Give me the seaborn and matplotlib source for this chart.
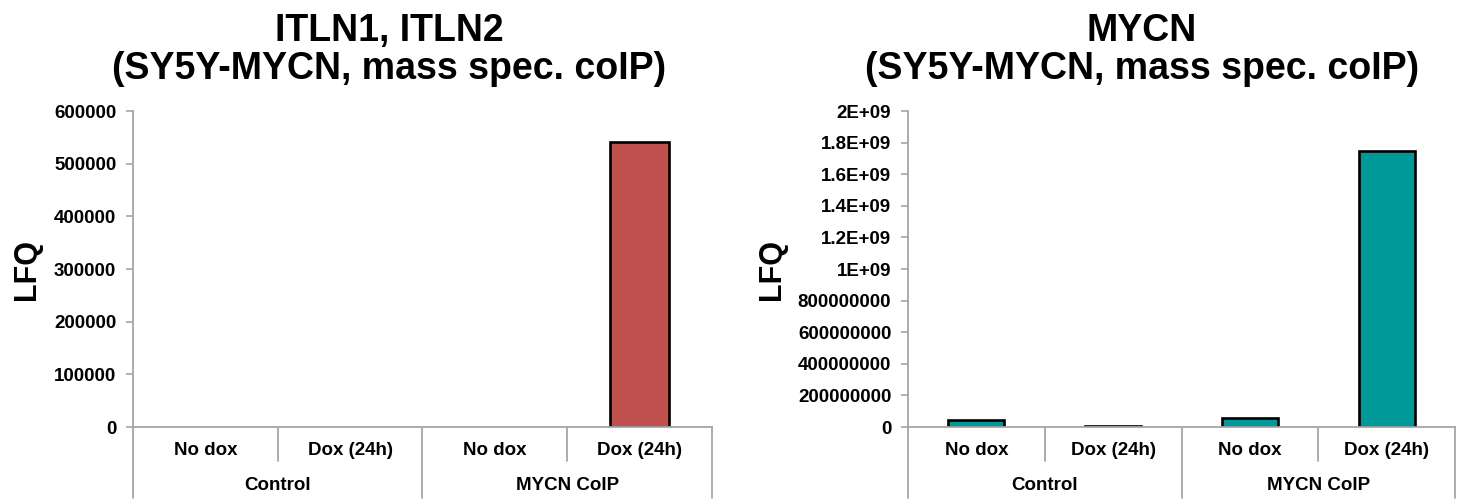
import matplotlib
matplotlib.use("Agg")
import matplotlib.pyplot as plt
import matplotlib.transforms as mtransforms
import seaborn as sns
import pandas as pd

# ---- data ----
groups = ["Control", "Control", "MYCN CoIP", "MYCN CoIP"]
treatments = ["No dox", "Dox (24h)", "No dox", "Dox (24h)"]
itln_values = [0, 0, 0, 541000]
mycn_values = [44000000, 5000000, 60000000, 1747000000]

itln_ticks = [0, 100000, 200000, 300000, 400000, 500000, 600000]
itln_ticklabels = ["0", "100000", "200000", "300000", "400000", "500000", "600000"]
mycn_ticks = [0, 2e8, 4e8, 6e8, 8e8, 1e9, 1.2e9, 1.4e9, 1.6e9, 1.8e9, 2e9]
mycn_ticklabels = ["0", "200000000", "400000000", "600000000", "800000000",
                   "1E+09", "1.2E+09", "1.4E+09", "1.6E+09", "1.8E+09", "2E+09"]

titles = ["ITLN1, ITLN2\n(SY5Y-MYCN, mass spec. coIP)",
          "MYCN\n(SY5Y-MYCN, mass spec. coIP)"]
ylabel = "LFQ"
colors = ["#C0504D", "#009999"]

sns.set_theme(style="white")
plt.rcParams["font.family"] = ["Liberation Sans", "DejaVu Sans"]
plt.rcParams["font.weight"] = "bold"
plt.rcParams["text.color"] = "black"
plt.rcParams["axes.labelcolor"] = "black"
plt.rcParams["xtick.color"] = "black"
plt.rcParams["ytick.color"] = "black"

fig = plt.figure(figsize=(14.59, 5.0), dpi=100)
W, H = 1459, 500
axL = fig.add_axes([133 / W, 1 - 427 / H, (712 - 133) / W, (427 - 111) / H])
axR = fig.add_axes([908 / W, 1 - 427 / H, (1455 - 908) / W, (427 - 111) / H])

gray = "#A6A6A6"

def draw(ax, values, ticks, ticklabels, color, title, title_x, ylab_x):
    keys = [f"{g}|{t}" for g, t in zip(groups, treatments)]
    df = pd.DataFrame({"key": keys, "val": values})
    sns.barplot(data=df, x="key", y="val", order=keys, color=color,
                width=0.41, edgecolor="black", linewidth=1.9, ax=ax,
                saturation=1)
    for p in ax.patches:
        if p.get_height() == 0:
            p.set_linewidth(0)
    ax.set_xlim(-0.5, len(keys) - 0.5)
    ax.set_ylim(0, ticks[-1])
    ax.set_yticks(ticks)
    ax.set_yticklabels(ticklabels, fontsize=13.5, fontweight="bold", color="black")
    ax.tick_params(axis="y", direction="out", length=5, width=1.2,
                   color=gray, pad=7, left=True, labelcolor="black")
    ax.set_xticks([])
    ax.set_xlabel("")
    ax.set_ylabel("")
    for s in ["top", "right"]:
        ax.spines[s].set_visible(False)
    for s in ["left", "bottom"]:
        ax.spines[s].set_color(gray)
        ax.spines[s].set_linewidth(1.3)
    trans = mtransforms.blended_transform_factory(ax.transData, ax.transAxes)
    n = len(keys)
    for i in range(n + 1):
        xb = i - 0.5
        if i == 0 or i == n or groups[i - 1] != groups[i]:
            ybot = -0.225
        else:
            ybot = -0.108
        ax.plot([xb, xb], [0, ybot], color=gray, lw=1.3, transform=trans,
                clip_on=False)
    for i, t in enumerate(treatments):
        ax.text(i, -0.073, t, transform=trans, ha="center", va="center",
                fontsize=13.5, fontweight="bold", color="black")
    seen = []
    for g in groups:
        if g not in seen:
            seen.append(g)
    for g in seen:
        idx = [i for i, gg in enumerate(groups) if gg == g]
        xc = (idx[0] + idx[-1]) / 2
        ax.text(xc, -0.184, g, transform=trans, ha="center", va="center",
                fontsize=13.5, fontweight="bold", color="black")
    fig.text(title_x / W, 1 - 13 / H, title, ha="center", va="top",
             fontsize=27, fontweight="bold", linespacing=1.08, color="black")
    fig.text(ylab_x / W, 1 - 270 / H, ylabel, rotation=90, ha="center",
             va="center", fontsize=22, fontweight="bold", color="black")

draw(axL, itln_values, itln_ticks, itln_ticklabels, colors[0], titles[0], 389, 27)
draw(axR, mycn_values, mycn_ticks, mycn_ticklabels, colors[1], titles[1], 1142, 772)

fig.savefig("out.png", dpi=100, facecolor="white")
